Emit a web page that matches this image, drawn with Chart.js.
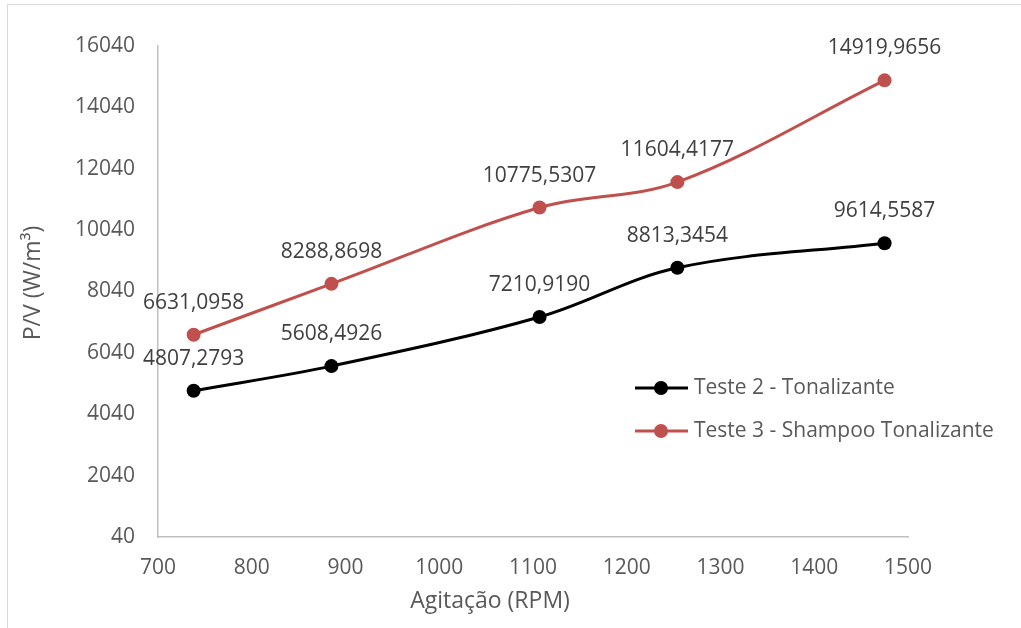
<!DOCTYPE html>
<html>
<head>
<meta charset="utf-8">
<script src="https://cdn.jsdelivr.net/npm/chart.js@4/dist/chart.umd.min.js"></script>
<style>
  html, body { margin: 0; padding: 0; background: #ffffff; }
  #wrap { width: 1021px; height: 628px; position: relative; }
</style>
</head>
<body>
<div id="wrap"><canvas id="c" width="1021" height="628"></canvas></div>
<script>
// Agitation speeds (RPM)
const rpm = [738, 885, 1107, 1254, 1475];
// Power per volume (W/m³)
const teste2 = [4807.2793, 5608.4926, 7210.9190, 8813.3454, 9614.5587];
const teste3 = [6631.0958, 8288.8698, 10775.5307, 11604.4177, 14919.9656];
const seriesNames = ['Teste 2 - Tonalizante', 'Teste 3 - Shampoo Tonalizante'];
const xTicks = { min: 700, max: 1500, step: 100 };
const yTicks = { min: 40, max: 16040, step: 2000 };
const xTitle = 'Agitação (RPM)';
const yTitle = 'P/V (W/m³)';

const FONT = "'Open Sans', 'Liberation Sans', sans-serif";
const BLACK = '#000000';
const RED = '#C0504D';

const toPoints = (ys) => ys.map((y, i) => ({ x: rpm[i], y }));
const fmt = (v) => v.toFixed(4).replace('.', ',');

// Value labels above every point, chart frame, axis titles and the floating legend
const decorations = {
  id: 'decorations',
  beforeDraw(chart) {
    const ctx = chart.ctx;
    ctx.save();
    ctx.strokeStyle = '#d9d9d9';
    ctx.lineWidth = 1;
    ctx.beginPath();
    ctx.moveTo(7.5, 628);
    ctx.lineTo(7.5, 4.5);
    ctx.lineTo(1021, 4.5);
    ctx.stroke();
    ctx.restore();
  },
  afterDatasetsDraw(chart) {
    const ctx = chart.ctx;
    ctx.save();
    ctx.font = '21px ' + FONT;
    ctx.fillStyle = '#404040';
    ctx.textAlign = 'center';
    ctx.textBaseline = 'middle';
    chart.data.datasets.forEach((ds, di) => {
      const meta = chart.getDatasetMeta(di);
      meta.data.forEach((pt, i) => {
        ctx.fillText(fmt(ds.data[i].y), pt.x, pt.y - 32);
      });
    });
    ctx.restore();
  },
  afterDraw(chart) {
    const ctx = chart.ctx;
    ctx.save();
    // axis titles
    ctx.fillStyle = '#595959';
    ctx.font = '23px ' + FONT;
    ctx.textAlign = 'center';
    ctx.textBaseline = 'middle';
    ctx.fillText(xTitle, 490, 601);
    ctx.translate(33, 283);
    ctx.rotate(-Math.PI / 2);
    ctx.fillText(yTitle, 0, 0);
    ctx.restore();

    // legend
    ctx.save();
    const rows = [
      { y: 388, color: BLACK, name: seriesNames[0] },
      { y: 431, color: RED, name: seriesNames[1] }
    ];
    rows.forEach(r => {
      ctx.strokeStyle = r.color;
      ctx.lineWidth = 3;
      ctx.beginPath();
      ctx.moveTo(635, r.y);
      ctx.lineTo(688, r.y);
      ctx.stroke();
      ctx.fillStyle = r.color;
      ctx.beginPath();
      ctx.arc(661, r.y, 7, 0, Math.PI * 2);
      ctx.fill();
      ctx.fillStyle = '#595959';
      ctx.font = '21px ' + FONT;
      ctx.textAlign = 'left';
      ctx.textBaseline = 'middle';
      ctx.fillText(r.name, 694, r.y);
    });
    ctx.restore();
  }
};

new Chart(document.getElementById('c'), {
  type: 'line',
  data: {
    datasets: [
      {
        label: seriesNames[0],
        data: toPoints(teste2),
        borderColor: BLACK,
        backgroundColor: BLACK,
        borderWidth: 3,
        pointRadius: 7,
        pointBackgroundColor: BLACK,
        pointBorderWidth: 0,
        tension: 0.35,
        fill: false
      },
      {
        label: seriesNames[1],
        data: toPoints(teste3),
        borderColor: RED,
        backgroundColor: RED,
        borderWidth: 3,
        pointRadius: 7,
        pointBackgroundColor: RED,
        pointBorderWidth: 0,
        tension: 0.35,
        fill: false
      }
    ]
  },
  options: {
    responsive: false,
    animation: false,
    devicePixelRatio: 1,
    layout: { padding: { left: 0, right: 113, top: 46, bottom: 0 } },
    plugins: {
      legend: { display: false },
      tooltip: { enabled: false }
    },
    scales: {
      x: {
        type: 'linear',
        min: xTicks.min,
        max: xTicks.max,
        grid: { display: false, drawTicks: false },
        border: { display: true, color: '#bfbfbf', width: 1.5 },
        ticks: {
          stepSize: xTicks.step,
          color: '#595959',
          font: { family: FONT, size: 21 },
          padding: 18,
          maxRotation: 0,
          callback: (v) => String(v)
        },
        afterFit(scale) { scale.height = 91; }
      },
      y: {
        type: 'linear',
        min: yTicks.min,
        max: yTicks.max,
        grid: { display: false, drawTicks: false },
        border: { display: true, color: '#bfbfbf', width: 1.5 },
        ticks: {
          stepSize: yTicks.step,
          color: '#595959',
          font: { family: FONT, size: 21 },
          padding: 23,
          callback: (v) => String(v)
        },
        afterFit(scale) { scale.width = 158; }
      }
    }
  },
  plugins: [decorations]
});
</script>
</body>
</html>
